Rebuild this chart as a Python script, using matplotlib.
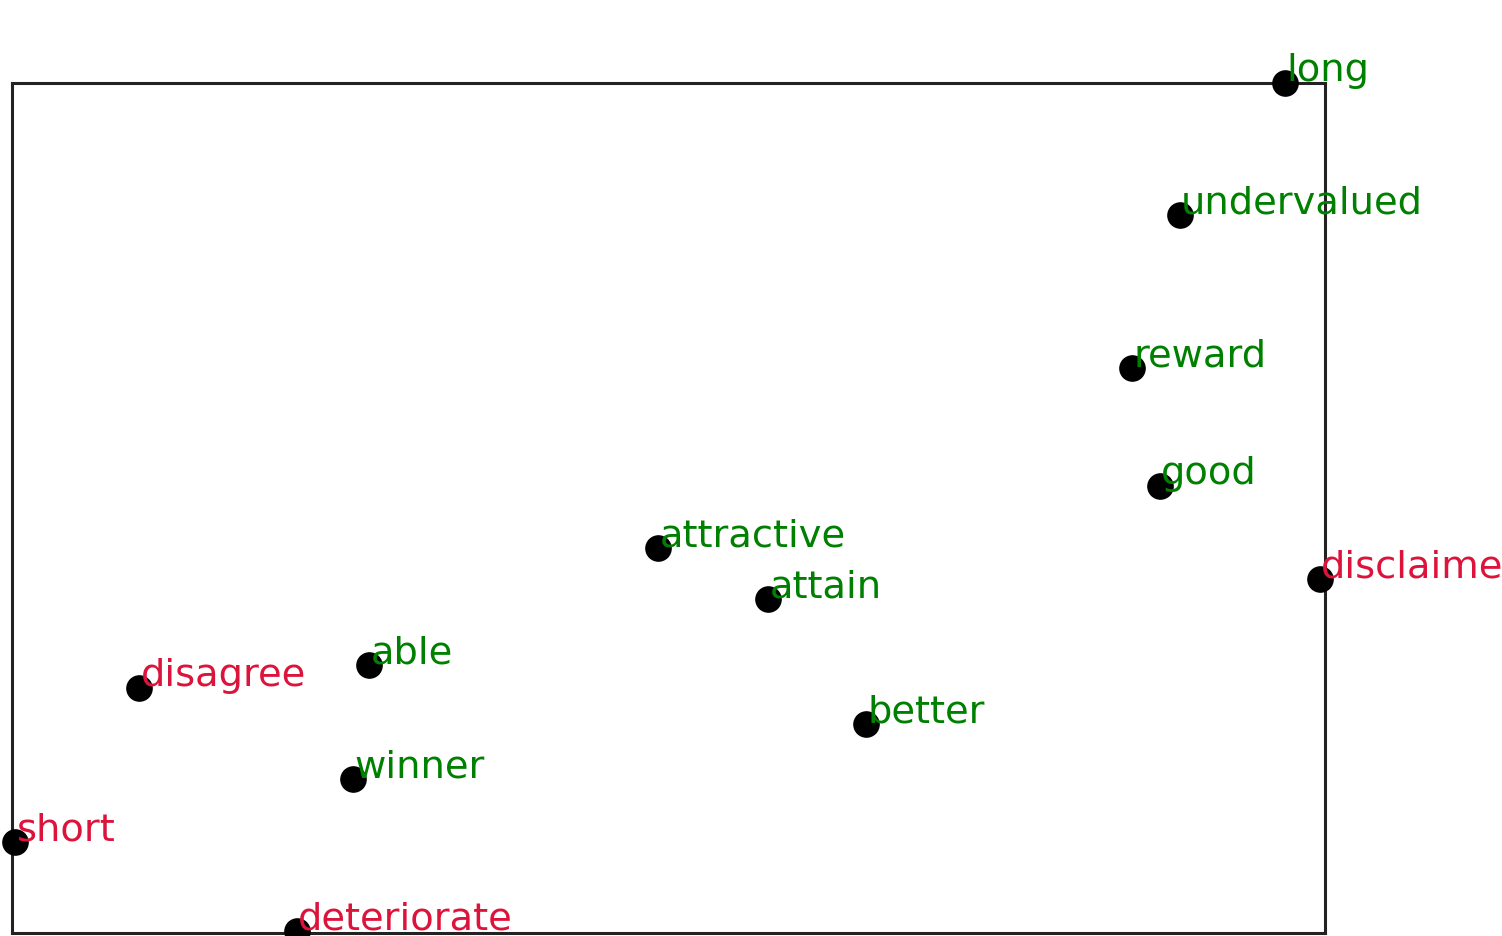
import numpy as np
import matplotlib
matplotlib.use("Agg")
import matplotlib.pyplot as plt

# 2D projection of word vectors
words = ["long", "undervalued", "reward", "good", "disclaimer", "attractive",
         "attain", "able", "disagree", "better", "winner", "short", "deteriorate"]
x_vals = [0.650, 0.545, 0.497, 0.525, 0.685, 0.023,
          0.133, -0.266, -0.496, 0.231, -0.282, -0.620, -0.338]
y_vals = [0.550, 0.418, 0.265, 0.147, 0.054, 0.085,
          0.034, -0.032, -0.055, -0.091, -0.146, -0.209, -0.298]
sentiment = ["pos", "pos", "pos", "pos", "neg", "pos",
             "pos", "pos", "neg", "pos", "pos", "neg", "neg"]

colors = {"pos": "green", "neg": "crimson"}

fig = plt.figure(figsize=(15.02, 9.37), dpi=100)
ax = fig.add_axes([0.008, 0.0032, 0.874, 0.907])

ax.scatter(x_vals, y_vals, s=330, color="black", zorder=3, clip_on=False)
for w, x, y, s in zip(words, x_vals, y_vals, sentiment):
    ax.annotate(w, xy=(x, y), xytext=(1, 2), textcoords="offset points",
                color=colors[s], fontsize=27.6, annotation_clip=False)

ax.set_xlim(min(x_vals) - 0.003, max(x_vals) + 0.005)
ax.set_ylim(min(y_vals) - 0.002, max(y_vals))
ax.set_xticks([])
ax.set_yticks([])
for sp in ax.spines.values():
    sp.set_linewidth(2.2)
    sp.set_color("#222222")

fig.savefig("out.png", dpi=100)
